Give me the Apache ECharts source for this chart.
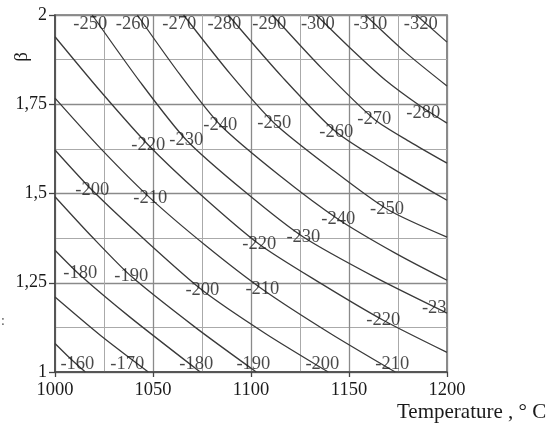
<!DOCTYPE html>
<html>
<head>
<meta charset="utf-8">
<script src="https://cdn.jsdelivr.net/npm/echarts@6/dist/echarts.min.js"></script>
<style>
  html, body { margin: 0; padding: 0; background: #fff; }
  #chart { width: 548px; height: 426px; }
</style>
</head>
<body>
<div id="chart"></div>
<script>
// Axis ranges and tick labels
const tempTicks = [1000, 1050, 1100, 1150, 1200];
const betaTicks = [1, 1.25, 1.5, 1.75, 2];
const betaTickLabels = ['1', '1,25', '1,5', '1,75', '2'];

// Isolines: [temperature, beta] points along each curve
const iso160 = [[1000, 1.080], [1007.8, 1.038], [1015.5, 1.000]];
const iso170 = [[1000, 1.210], [1023.1, 1.103], [1047.6, 1.000]];
const iso180 = [[1000, 1.341], [1012.9, 1.271], [1038.4, 1.153], [1074.1, 1.000]];
const iso190 = [[1000, 1.491], [1019.0, 1.378], [1038.9, 1.268], [1071.6, 1.125], [1102.7, 1.000]];
const iso200 = [[1000, 1.622], [1019.0, 1.509], [1046.1, 1.369], [1075.2, 1.229], [1107.3, 1.108], [1139.4, 1.000]];
const iso210 = [[1000, 1.767], [1023.1, 1.627], [1048.6, 1.487], [1076.7, 1.355], [1105.8, 1.232], [1140.5, 1.108], [1173.6, 1.000]];
const iso220 = [[1000, 1.939], [1023.1, 1.787], [1047.6, 1.636], [1074.1, 1.498], [1104.2, 1.358], [1135.4, 1.249], [1167.5, 1.145], [1200, 1.055]];
const iso230 = [[1019.0, 2.000], [1043.5, 1.812], [1067.0, 1.650], [1097.1, 1.504], [1126.7, 1.378], [1163.4, 1.265], [1200, 1.165]];
const iso240 = [[1042.0, 2.000], [1063.9, 1.832], [1084.3, 1.692], [1114.9, 1.549], [1144.5, 1.428], [1173.6, 1.333], [1200, 1.257]];
const iso250 = [[1065.6, 2.000], [1089.4, 1.835], [1111.9, 1.697], [1140.5, 1.571], [1169.5, 1.456], [1200, 1.378]];
const iso260 = [[1088.4, 2.000], [1116.0, 1.826], [1143.5, 1.672], [1171.1, 1.574], [1200, 1.481]];
const iso270 = [[1110.9, 2.000], [1136.4, 1.849], [1162.9, 1.708], [1181.3, 1.644], [1200, 1.585]];
const iso280 = [[1133.3, 2.000], [1150.7, 1.907], [1168.5, 1.818], [1186.4, 1.745], [1200, 1.697]];
const iso290 = [[1158.3, 2.000], [1178.7, 1.896], [1200, 1.801]];
const iso300 = [[1184.3, 2.000], [1200, 1.924]];

const isolines = [iso160, iso170, iso180, iso190, iso200, iso210, iso220, iso230,
                  iso240, iso250, iso260, iso270, iso280, iso290, iso300];

// Level labels written on the plot
const labelText = ['-250', '-260', '-270', '-280', '-290', '-300', '-310', '-320',
                   '-280', '-270', '-260', '-250', '-240', '-230', '-220',
                   '-200', '-210', '-250', '-240', '-230', '-220',
                   '-180', '-190', '-200', '-210', '-23', '-220',
                   '-160', '-170', '-180', '-190', '-200', '-210'];
const labelT = [1018.0, 1039.7, 1063.4, 1086.4, 1109.3, 1134.1, 1160.9, 1186.6,
                1187.9, 1162.9, 1143.5, 1111.9, 1084.3, 1067.0, 1047.6,
                1019.0, 1048.6, 1169.4, 1144.5, 1126.7, 1104.2,
                1012.9, 1038.9, 1075.2, 1105.8, 1193.5, 1167.5,
                1011.4, 1036.9, 1072.1, 1101.2, 1136.4, 1172.1];
const labelBeta = [1.975, 1.975, 1.975, 1.975, 1.975, 1.975, 1.975, 1.975,
                   1.725, 1.708, 1.673, 1.697, 1.692, 1.650, 1.636,
                   1.509, 1.487, 1.456, 1.428, 1.378, 1.358,
                   1.277, 1.268, 1.229, 1.232, 1.179, 1.145,
                   1.022, 1.022, 1.022, 1.022, 1.022, 1.022];

const serif = '"Liberation Serif", "DejaVu Serif", serif';
const chart = echarts.init(document.getElementById('chart'), null, { renderer: 'canvas' });

const series = isolines.map(pts => ({
  type: 'line',
  data: pts,
  showSymbol: false,
  smooth: 0.25,
  lineStyle: { color: '#3a3a3a', width: 1.3 },
  silent: true,
  z: 3
}));

series.push({
  type: 'scatter',
  data: labelText.map((t, i) => ({ value: [labelT[i], labelBeta[i]], name: t })),
  symbolSize: 1,
  itemStyle: { color: 'rgba(0,0,0,0)' },
  label: {
    show: true,
    position: 'inside',
    formatter: p => p.name,
    color: '#1a1a1a',
    fontFamily: serif,
    fontSize: 18.5
  },
  silent: true,
  z: 5
});

chart.setOption({
  animation: false,
  backgroundColor: '#fff',
  grid: {
    left: 55, right: 101, top: 15, bottom: 54,
    show: true, borderColor: '#6f6f6f', borderWidth: 1.6, backgroundColor: 'transparent'
  },
  xAxis: {
    type: 'value', min: tempTicks[0], max: tempTicks[tempTicks.length - 1], interval: 50,
    axisLine: { show: true, onZero: false, lineStyle: { color: '#444', width: 1.5 } },
    axisTick: { show: true, length: 5, lineStyle: { color: '#444', width: 1.3 } },
    axisLabel: { color: '#1a1a1a', fontFamily: serif, fontSize: 18.5, margin: 9, formatter: v => String(v) },
    splitLine: { show: true, lineStyle: { color: '#8a8a8a', width: 1.3 } },
    minorTick: { show: false, splitNumber: 2 },
    minorSplitLine: { show: true, lineStyle: { color: '#aaa', width: 1 } }
  },
  yAxis: {
    type: 'value', min: betaTicks[0], max: betaTicks[betaTicks.length - 1], interval: 0.25,
    axisLine: { show: true, onZero: false, lineStyle: { color: '#444', width: 1.5 } },
    axisTick: { show: true, length: 6, lineStyle: { color: '#444', width: 1.3 } },
    axisLabel: {
      color: '#1a1a1a', fontFamily: serif, fontSize: 18, margin: 8,
      formatter: v => betaTickLabels[betaTicks.findIndex(b => Math.abs(b - v) < 1e-9)] || ''
    },
    splitLine: { show: true, lineStyle: { color: '#8a8a8a', width: 1.3 } },
    minorTick: { show: false, splitNumber: 2 },
    minorSplitLine: { show: true, lineStyle: { color: '#aaa', width: 1 } }
  },
  graphic: [
    {
      type: 'text', x: 22, y: 57, rotation: Math.PI / 2,
      style: { text: 'β', fontFamily: serif, fontSize: 19, fill: '#1a1a1a', align: 'center', verticalAlign: 'middle' }
    },
    {
      type: 'text', left: 397, top: 402,
      style: { text: 'Temperature , ° C', fontFamily: serif, fontSize: 21, fill: '#1a1a1a' }
    },
    {
      type: 'text', left: 1, top: 314,
      style: { text: ':', fontFamily: serif, fontSize: 14, fill: '#555' }
    }
  ],
  series: series
});
</script>
</body>
</html>
